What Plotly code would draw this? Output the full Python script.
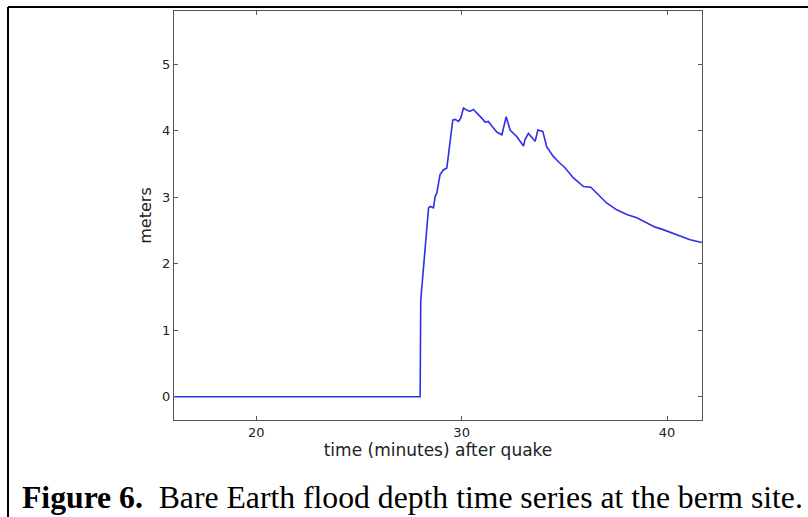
import plotly.graph_objects as go

# time (minutes) after quake
time_min = [16.0, 27.98, 28.01, 28.1, 28.2, 28.39, 28.47, 28.63, 28.71, 28.79, 28.95, 29.11,
            29.28, 29.41, 29.57, 29.68, 29.85, 29.96, 30.09, 30.25, 30.41, 30.57, 30.74,
            30.98, 31.14, 31.30, 31.47, 31.71, 31.96, 32.12, 32.17, 32.36, 32.69, 33.01,
            33.09, 33.25, 33.42, 33.58, 33.71, 33.82, 33.95, 34.14, 34.47, 34.79, 35.04,
            35.44, 35.93, 36.29, 36.58, 37.07, 37.55, 38.04, 38.53, 39.01, 39.42, 39.74,
            40.15, 40.63, 41.12, 41.69]
# flood depth (meters)
depth_m = [0.0, 0.0, 1.45, 1.76, 2.2, 2.84, 2.86, 2.84, 3.01, 3.06, 3.34, 3.41,
           3.44, 3.81, 4.16, 4.17, 4.14, 4.19, 4.34, 4.31, 4.29, 4.32, 4.27,
           4.19, 4.13, 4.14, 4.07, 3.98, 3.94, 4.15, 4.21, 4.01, 3.91, 3.77,
           3.87, 3.96, 3.89, 3.84, 4.01, 4.00, 3.99, 3.76, 3.61, 3.51, 3.44,
           3.29, 3.16, 3.15, 3.06, 2.91, 2.81, 2.74, 2.69, 2.61, 2.55, 2.52,
           2.47, 2.42, 2.36, 2.32]

x_ticks = [20, 30, 40]
y_ticks = [0, 1, 2, 3, 4, 5]

x_title = "time (minutes) after quake"
y_title = "meters"
caption_bold = "Figure 6."
caption_text = "Bare Earth flood depth time series at the berm site."

fig = go.Figure()
fig.add_trace(go.Scatter(x=time_min, y=depth_m, mode="lines",
                         line=dict(color="#2f2fe8", width=1.6),
                         showlegend=False, hoverinfo="skip"))

axis_common = dict(showline=True, linecolor="#555555", linewidth=1.2, mirror="allticks",
                   ticks="inside", ticklen=4, tickcolor="#555555", tickwidth=1,
                   showgrid=False, zeroline=False,
                   tickfont=dict(family="DejaVu Sans", size=13, color="#222222"))

fig.update_xaxes(range=[16.0, 41.7], tickvals=x_ticks, ticktext=[str(v) for v in x_ticks],
                 title=dict(text=x_title, font=dict(family="DejaVu Sans", size=17, color="#222222"),
                            standoff=5),
                 **axis_common)
fig.update_yaxes(range=[-0.35, 5.8], tickvals=y_ticks, ticktext=[str(v) for v in y_ticks],
                 title=dict(text=y_title, font=dict(family="DejaVu Sans", size=16, color="#222222"),
                            standoff=6),
                 **axis_common)

L, R, T, B = 174, 106, 11, 97
W, H = 808, 517
pw, ph = W - L - R, H - T - B

def px_x(p):
    return (p - L) / pw

def px_y(p):
    return (H - B - p) / ph

fig.update_layout(
    width=W, height=H,
    margin=dict(l=L, r=R, t=T, b=B, autoexpand=False),
    paper_bgcolor="white", plot_bgcolor="white",
    shapes=[
        dict(type="line", xref="paper", yref="paper", x0=px_x(8), x1=px_x(812),
             y0=px_y(7), y1=px_y(7), line=dict(color="black", width=2)),
        dict(type="line", xref="paper", yref="paper", x0=px_x(8), x1=px_x(8),
             y0=px_y(7), y1=px_y(520), line=dict(color="black", width=2)),
    ],
    annotations=[
        dict(xref="paper", yref="paper", x=px_x(20), y=px_y(498), xanchor="left", yanchor="middle",
             showarrow=False,
             text="<b>" + caption_bold + "</b>  " + caption_text,
             font=dict(family="Liberation Serif", size=31.7, color="black")),
    ],
)

fig.write_html("out.html")
